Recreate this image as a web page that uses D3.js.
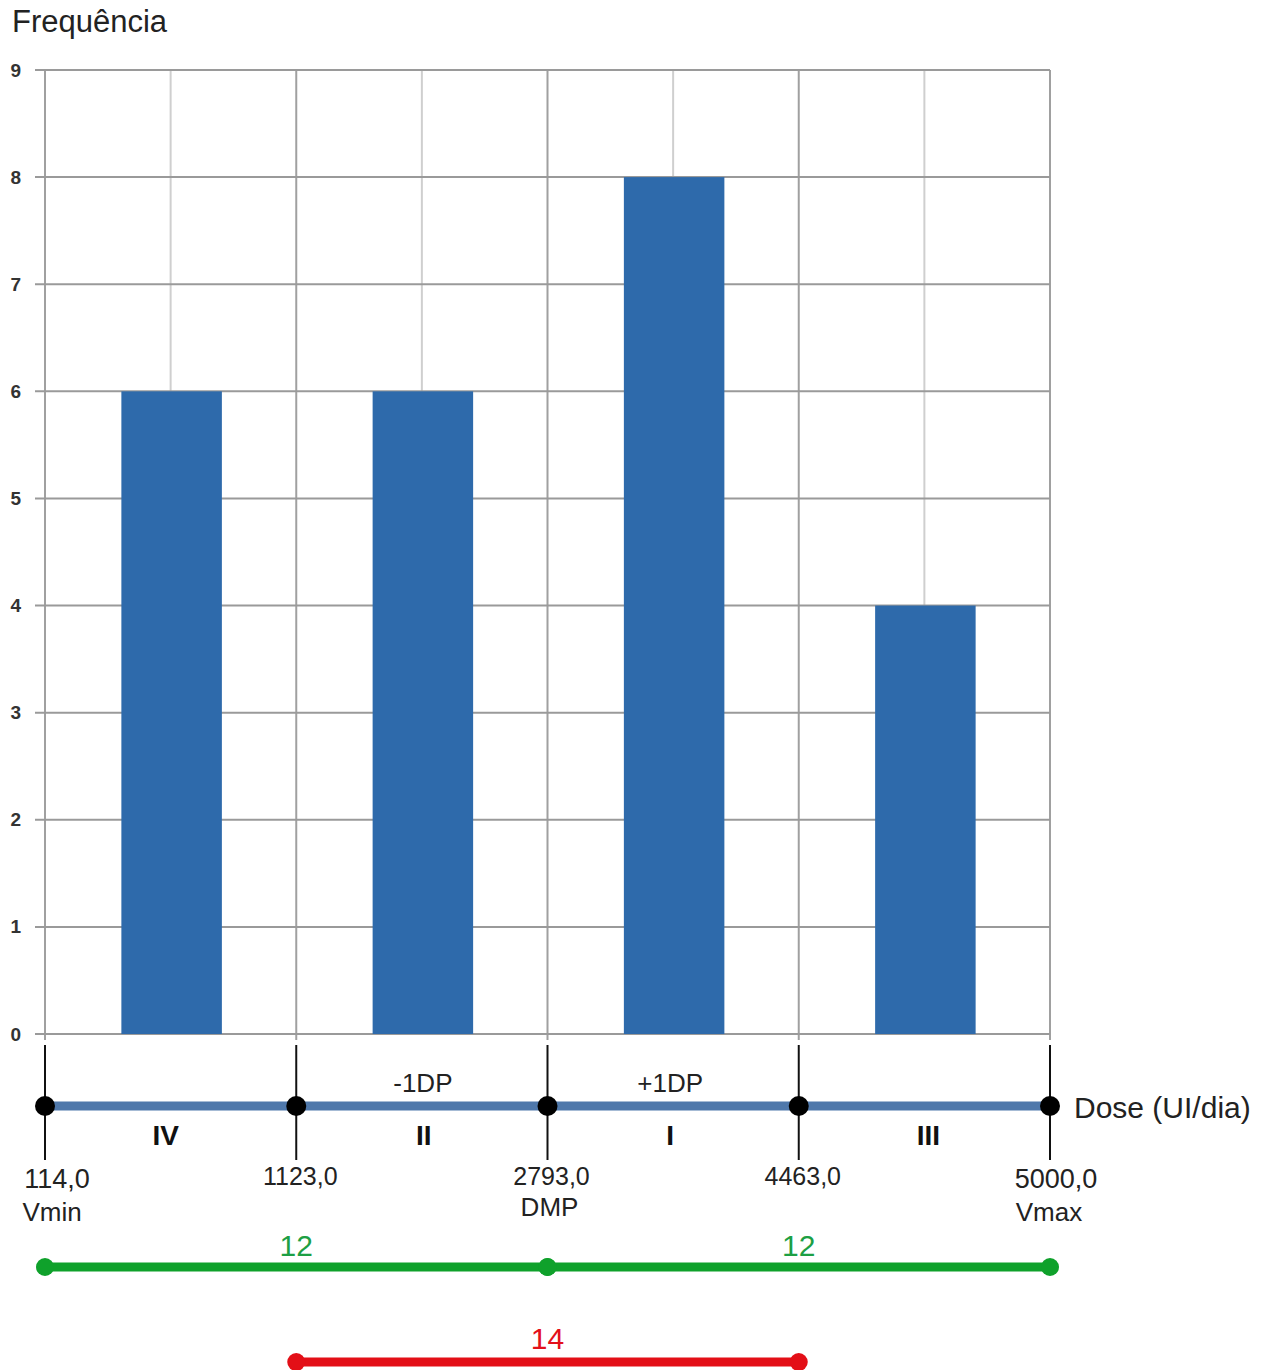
<!DOCTYPE html>
<html><head><meta charset="utf-8">
<script src="https://cdn.jsdelivr.net/npm/d3@7"></script>
<style>body{margin:0;background:#fff}svg{display:block;font-family:Arial,"Liberation Sans",sans-serif}</style>
</head><body>
<svg id="c" width="1278" height="1370"></svg>
<script>
// Data
const classes = ["IV", "II", "I", "III"];
const frequencies = [6, 6, 8, 4];
const boundaryValues = [114.0, 1123.0, 2793.0, 4463.0, 5000.0];
const boundaryLabels = ["114,0", "1123,0", "2793,0", "4463,0", "5000,0"];
const boundaryNames = ["Vmin", "", "DMP", "", "Vmax"];
const aboveLabels = ["", "-1DP", "+1DP", ""];
const yTicks = [0, 1, 2, 3, 4, 5, 6, 7, 8, 9];
const greenSpans = [[0, 2, "12"], [2, 4, "12"]];
const redSpans = [[1, 3, "14"]];

(function () {
const svg = d3.select("#c");
const pL = 45, pR = 1050, pT = 70, pB = 1034;

const y = d3.scaleLinear().domain([0, 9]).range([pB, pT]);
const xb = d3.scaleBand().domain(classes).range([pL, pR]).paddingInner(0.6).paddingOuter(0.3);
const xp = d3.scalePoint().domain(d3.range(boundaryValues.length)).range([pL, pR]);

// minor vertical grid (class centres)
svg.append("g").selectAll("line").data(classes).join("line")
  .attr("x1", d => xb(d) + xb.bandwidth() / 2).attr("x2", d => xb(d) + xb.bandwidth() / 2)
  .attr("y1", pT).attr("y2", pB)
  .attr("stroke", "#cfcfcf").attr("stroke-width", 2);
// major vertical grid
svg.append("g").selectAll("line").data(d3.range(boundaryValues.length)).join("line")
  .attr("x1", d => xp(d)).attr("x2", d => xp(d))
  .attr("y1", pT).attr("y2", pB + 6)
  .attr("stroke", "#a0a0a0").attr("stroke-width", 2);
// horizontal grid + y axis
const yAxis = d3.axisLeft(y).tickValues(yTicks).tickSize(0).tickPadding(0);
svg.append("g").selectAll("line").data(yTicks).join("line")
  .attr("x1", pL - 10).attr("x2", pR)
  .attr("y1", d => y(d)).attr("y2", d => y(d))
  .attr("stroke", "#9a9a9a").attr("stroke-width", 2);
const ya = svg.append("g").attr("transform", `translate(21,0)`).call(yAxis);
ya.select(".domain").remove();
ya.selectAll("text").attr("font-size", 19).attr("font-weight", "bold").attr("fill", "#333")
  .attr("font-family", "Arial, 'Liberation Sans', sans-serif");

// bars
svg.append("g").selectAll("rect").data(classes).join("rect")
  .attr("x", d => xb(d) + 1).attr("width", xb.bandwidth())
  .attr("y", (d, i) => y(frequencies[i])).attr("height", (d, i) => y(0) - y(frequencies[i]))
  .attr("fill", "#2e6aab");

// dose axis
const axisY = 1106;
svg.append("g").selectAll("line").data(d3.range(boundaryValues.length)).join("line")
  .attr("x1", d => xp(d)).attr("x2", d => xp(d))
  .attr("y1", 1045).attr("y2", 1160)
  .attr("stroke", "#111").attr("stroke-width", 2);
svg.append("line").attr("x1", pL).attr("x2", pR).attr("y1", axisY).attr("y2", axisY)
  .attr("stroke", "#4f78ab").attr("stroke-width", 9);
svg.append("g").selectAll("circle").data(d3.range(boundaryValues.length)).join("circle")
  .attr("cx", d => xp(d)).attr("cy", axisY).attr("r", 10).attr("fill", "#000");

svg.append("text").attr("x", 1074).attr("y", 1118).attr("font-size", 30).attr("fill", "#222")
  .text("Dose (UI/dia)");

// boundary labels
const lblOff = [12, 4, 4, 4, 6];
svg.append("g").selectAll("text").data(boundaryLabels).join("text")
  .attr("x", (d, i) => xp(i) + lblOff[i]).attr("y", (d, i) => i === 0 || i === 4 ? 1188 : 1185)
  .attr("text-anchor", "middle").attr("font-size", (d, i) => i === 0 || i === 4 ? 27 : 25)
  .attr("fill", "#222").text(d => d);
svg.append("g").selectAll("text").data(boundaryNames).join("text")
  .attr("x", (d, i) => xp(i) + [7, 0, 2, 0, -1][i]).attr("y", (d, i) => i === 2 ? 1216 : 1221)
  .attr("text-anchor", "middle").attr("font-size", 26)
  .attr("fill", "#222").text(d => d);

// class labels
const clsOff = [-5, 2, -3, 4];
svg.append("g").selectAll("text").data(classes).join("text")
  .attr("x", (d, i) => xb(d) + xb.bandwidth() / 2 + clsOff[i]).attr("y", 1145)
  .attr("text-anchor", "middle").attr("font-size", 28).attr("font-weight", "bold")
  .attr("fill", "#111").text(d => d);
svg.append("g").selectAll("text").data(aboveLabels).join("text")
  .attr("x", (d, i) => xb(classes[i]) + xb.bandwidth() / 2 + [0, 1, -3, 0][i]).attr("y", 1092)
  .attr("text-anchor", "middle").attr("font-size", 26)
  .attr("fill", "#222").text(d => d);

// title
svg.append("text").attr("x", 12).attr("y", 32).attr("font-size", 31).attr("fill", "#222").text("Frequência");

// spans
function spans(data, yy, color, textColor, dy) {
  const g = svg.append("g");
  data.forEach(([a, b, t]) => {
    g.append("line").attr("x1", xp(a)).attr("x2", xp(b)).attr("y1", yy).attr("y2", yy)
      .attr("stroke", color).attr("stroke-width", 9);
    g.selectAll(null).data([a, b]).enter().append("circle")
      .attr("cx", d => xp(d)).attr("cy", yy).attr("r", 9).attr("fill", color);
    g.append("text").attr("x", (xp(a) + xp(b)) / 2).attr("y", yy - dy)
      .attr("text-anchor", "middle").attr("font-size", 30).attr("fill", textColor).text(t);
  });
}
spans(greenSpans, 1267, "#0fa12b", "#1d9f44", 11);
spans(redSpans, 1362, "#e30f17", "#e3101a", 13);
})();
</script>
</body></html>
